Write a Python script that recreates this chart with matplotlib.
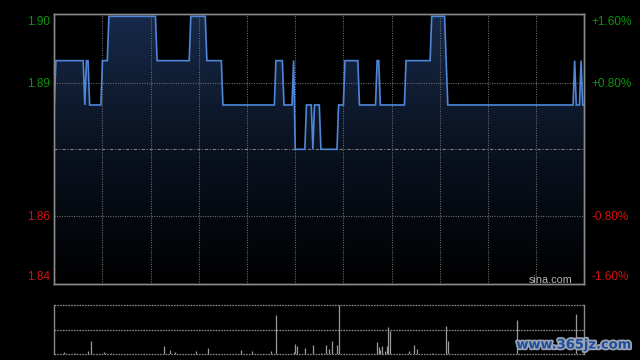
import numpy as np
import matplotlib
matplotlib.use("Agg")
import matplotlib.pyplot as plt
import matplotlib.patheffects as pe
from matplotlib.colors import LinearSegmentedColormap

# ---------------- data ----------------
prev_close = 1.88
price_minutes = [0, 1, 18, 19, 20, 21, 22, 29, 30, 33, 34, 63, 64, 84, 85, 94, 95, 104, 105,
                 137, 138, 142, 143, 148, 149, 150, 156, 157, 160, 161, 162, 165, 166, 176,
                 177, 180, 181, 189, 190, 200, 201, 202, 203, 218, 219, 234, 235, 243, 244,
                 245, 323, 324, 325, 327, 328, 329, 330]
price_values = [1.89, 1.90, 1.90, 1.89, 1.90, 1.90, 1.89, 1.89, 1.90, 1.90, 1.91, 1.91, 1.90,
                1.90, 1.91, 1.91, 1.90, 1.90, 1.89, 1.89, 1.90, 1.90, 1.89, 1.89, 1.90, 1.88,
                1.88, 1.89, 1.89, 1.88, 1.89, 1.89, 1.88, 1.88, 1.89, 1.89, 1.90, 1.90, 1.89,
                1.89, 1.90, 1.90, 1.89, 1.89, 1.90, 1.90, 1.91, 1.91, 1.90, 1.89, 1.89, 1.90,
                1.89, 1.89, 1.90, 1.89, 1.89]

vol_minutes = [6, 13, 21, 23, 31, 32, 35, 68, 72, 75, 88, 96, 116, 123, 135, 138, 149, 150,
               151, 156, 161, 166, 169, 171, 173, 176, 177, 201, 202, 203, 204, 206, 207, 208,
               209, 221, 224, 226, 235, 244, 245, 288, 325]
vol_values = [0.05, 0.03, 0.07, 0.27, 0.05, 0.03, 0.03, 0.17, 0.09, 0.05, 0.07, 0.13, 0.09,
              0.07, 0.07, 0.80, 0.05, 0.21, 0.17, 0.13, 0.19, 0.03, 0.19, 0.11, 0.27, 0.19,
              1.00, 0.25, 0.15, 0.09, 0.17, 0.07, 0.17, 0.55, 0.48, 0.07, 0.19, 0.11, 0.03,
              0.57, 0.27, 0.70, 0.82]

pct_ticks = [1.6, 0.8, -0.8, -1.6]
left_labels = ["1.90", "1.89", "1.86", "1.84"]
right_labels = ["+1.60%", "+0.80%", "-0.80%", "-1.60%"]
time_grid = [30, 60, 90, 120, 150, 180, 210, 240, 270, 300]
total_minutes = 330

# ---------------- style ----------------
plt.rcParams['font.family'] = ['Liberation Sans', 'DejaVu Sans']
plt.rcParams['lines.scale_dashes'] = False
BG = "#000000"
GREEN = "#0a960a"
RED = "#d41010"
GRID = "#6e6e6e"
BORDER = "#8a8a8a"
LINE = "#4f86d8"

W, H = 640, 360
fig = plt.figure(figsize=(W / 100, H / 100), dpi=100, facecolor=BG)

def ax_rect(x0, y0, x1, y1):
    return [x0 / W, 1 - y1 / H, (x1 - x0) / W, (y1 - y0) / H]

ax = fig.add_axes(ax_rect(54.3, 14.3, 584.3, 284.3))
ax.set_facecolor(BG)

pmin = prev_close * (1 - 0.0162)
pmax = prev_close * (1 + 0.0162)
ax.set_xlim(0, total_minutes)
ax.set_ylim(pmin, pmax)

# gradient fill under the price line
tt = np.array(price_minutes, dtype=float)
pp = np.array(price_values, dtype=float)
poly_x = np.concatenate([[tt[0]], tt, [tt[-1]]])
poly_y = np.concatenate([[pmin], pp, [pmin]])
fill = ax.fill(poly_x, poly_y, facecolor="none", edgecolor="none")[0]
cmap = LinearSegmentedColormap.from_list("g", ["#000000", "#0a1220", "#172a4a"])
grad = np.linspace(0, 1, 256).reshape(-1, 1)
im = ax.imshow(grad, cmap=cmap, aspect="auto", origin="lower",
               extent=[0, total_minutes, pmin, pmax], zorder=1, interpolation="bilinear")
im.set_clip_path(fill)

# grid
for t in time_grid:
    ax.axvline(t, color=GRID, lw=0.8, dashes=(0.75, 1.0), zorder=2)
for p in pct_ticks[1:3]:
    ax.axhline(prev_close * (1 + p / 100), color=GRID, lw=0.8, dashes=(0.75, 1.0), zorder=2)
ax.axhline(prev_close, color="#7a7a7a", lw=0.8, dashes=(2.5, 1.2, 0.8, 1.2), zorder=2)

ax.plot(tt, pp, color=LINE, lw=1.2, zorder=3, solid_joinstyle="miter")

# ticks/labels
tick_pos = [prev_close * (1 + p / 100) for p in pct_ticks]
ax.set_xticks([])
ax.set_yticks(tick_pos)
ax.set_yticklabels(left_labels, fontsize=8.5)
axr = ax.twinx()
axr.set_ylim(pmin, pmax)
axr.set_yticks(tick_pos)
axr.set_yticklabels(right_labels, fontsize=8.5)
for a in (ax, axr):
    labs = a.get_yticklabels()
    for i, (lab, p) in enumerate(zip(labs, pct_ticks)):
        lab.set_color(GREEN if p > 0 else RED)
        if i == 0:
            lab.set_va("top")
        elif i == len(labs) - 1:
            lab.set_va("bottom")
ax.tick_params(axis="y", length=0, pad=3)
axr.tick_params(axis="y", length=0, pad=5)

for a in (ax, axr):
    for s in a.spines.values():
        s.set_color(BORDER)
        s.set_linewidth(1.0)

ax.text(0.978, 0.006, "sina.com", transform=ax.transAxes, ha="right", va="baseline",
        color="#b4b4b4", fontsize=7.8, zorder=5)

# ---------------- volume panel ----------------
axv = fig.add_axes(ax_rect(54.3, 305, 584.3, 354.3))
axv.set_facecolor(BG)
axv.set_xlim(0, total_minutes)
axv.set_ylim(0, 1)
axv.vlines(vol_minutes, 0, vol_values, color="#9a9a9a", lw=0.9, zorder=3)
for yv in (0.0, 0.5, 1.0):
    axv.axhline(yv, color="#8a8a8a", lw=0.9, dashes=(1.2, 0.8), zorder=2, clip_on=False)
axv.set_xticks([])
axv.set_yticks([])
for k in ("top", "bottom"):
    axv.spines[k].set_visible(False)
for k in ("left", "right"):
    axv.spines[k].set_color(BORDER)
    axv.spines[k].set_linewidth(1.0)

# watermark
fig.text(573.5 / W, 1 - 345 / H, "www.365jz.com", ha="center", va="center",
         color="#1f4f9c", fontsize=9.4, fontweight="bold", family="DejaVu Sans",
         path_effects=[pe.withStroke(linewidth=2.5, foreground="#9aa4b4")], zorder=10)

fig.savefig("out.png", dpi=100, facecolor=BG)
